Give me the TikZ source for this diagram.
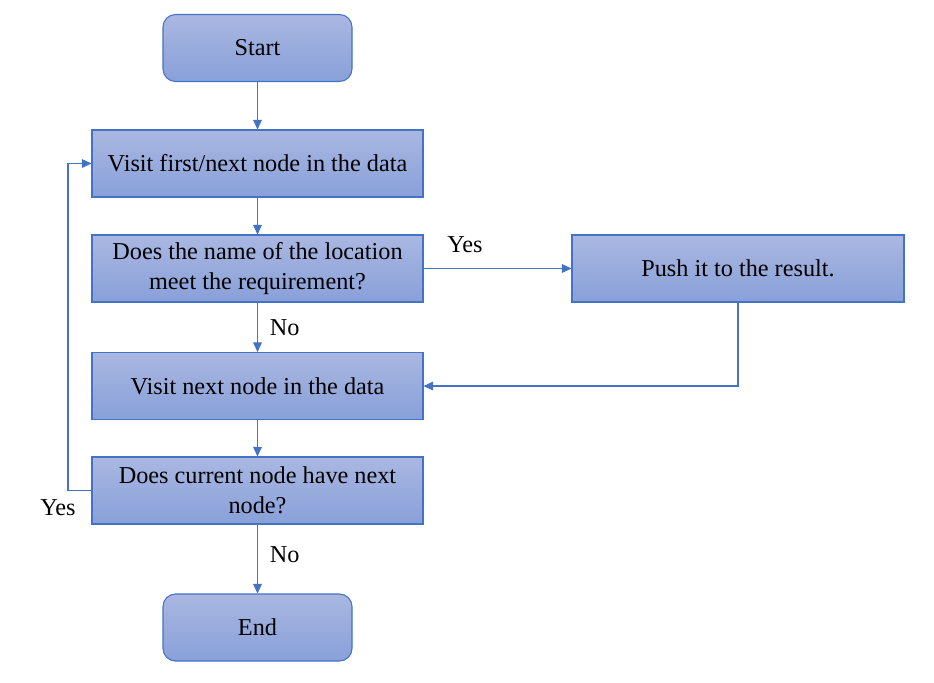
\documentclass[tikz,border=0pt]{standalone}
\usepackage{fontspec}
\setmainfont{Liberation Serif}
\usetikzlibrary{arrows.meta,positioning}

\definecolor{boxtop}{RGB}{170,183,225}
\definecolor{boxbot}{RGB}{136,160,217}
\definecolor{boxline}{RGB}{68,114,196}

\tikzset{
    flowbox/.style={draw=boxline, line width=0.6pt, top color=boxtop, bottom color=boxbot,
        minimum width=6.62cm, minimum height=1.34cm, align=center,
        font=\fontsize{13.8}{16.8}\selectfont},
    termbox/.style={flowbox, rounded corners=0.25cm, minimum width=3.78cm},
    flowline/.style={draw=boxline, line width=0.6pt, -{Triangle[length=5.5pt,width=5pt]}},
    flowlabel/.style={font=\fontsize{13.8}{16.8}\selectfont}
}

\begin{document}
\begin{tikzpicture}
    \useasboundingbox (0,0) rectangle (18.68,-13.64);

    % Boxes
    \node [termbox] (start) at (5.15,-0.96) {Start};
    \node [flowbox] (visitfirst) at (5.15,-3.27) {Visit first/next node in the data};
    \node [flowbox] (checkname) at (5.15,-5.37) {Does the name of the location\\meet the requirement?};
    \node [flowbox, minimum width=6.64cm] (push) at (14.76,-5.37) {Push it to the result.};
    \node [flowbox] (visitnext) at (5.15,-7.72) {Visit next node in the data};
    \node [flowbox] (hasnext) at (5.15,-9.81) {Does current node have next\\node?};
    \node [termbox] (end) at (5.15,-12.55) {End};

    % Main flow
    \draw [flowline] (start) -- (visitfirst);
    \draw [flowline] (visitfirst) -- (checkname);
    \draw [flowline] (checkname) -- node [flowlabel, right=0.12cm] {No} (visitnext);
    \draw [flowline] (visitnext) -- (hasnext);
    \draw [flowline] (hasnext) -- node [flowlabel, pos=0.43, right=0.12cm] {No} (end);

    % Yes branch
    \draw [flowline] (checkname) -- node [flowlabel, pos=0.28, above=0.18cm] {Yes} (push);
    \draw [flowline] (push.south) |- (visitnext.east);

    % Loop back
    \coordinate (loopcorner) at (1.36,-9.81);
    \draw [flowline] (hasnext.west) -- (loopcorner) |- (visitfirst.west);
    \node [flowlabel] at (1.16,-10.15) {Yes};
\end{tikzpicture}
\end{document}
